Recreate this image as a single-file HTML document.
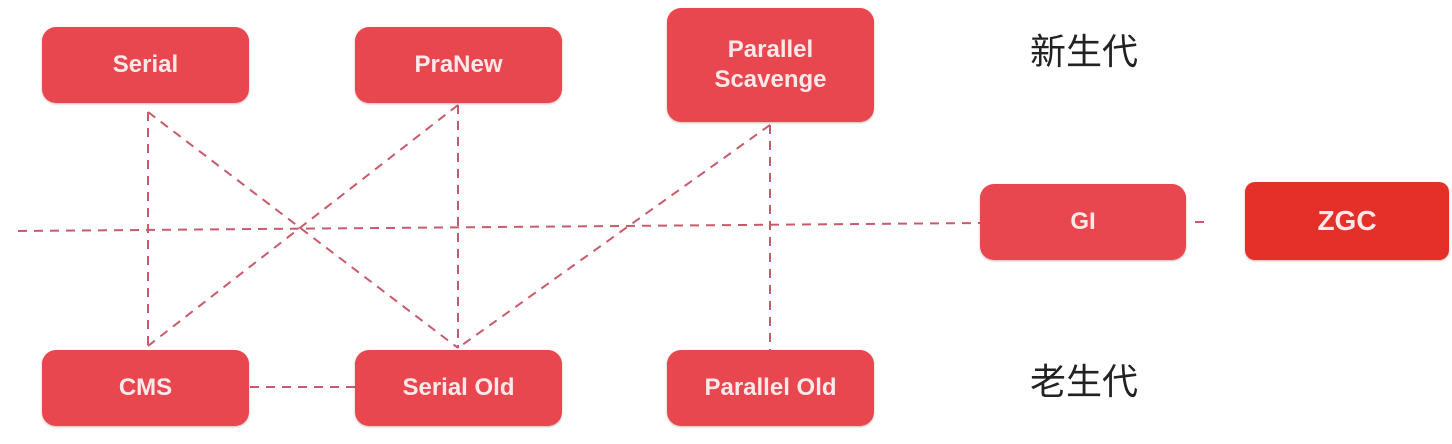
<!DOCTYPE html>
<html><head><style>
body{margin:0;width:1452px;height:444px;background:#fff;position:relative;overflow:hidden;font-family:"Liberation Sans",sans-serif}
.b{position:absolute;background:#e8474f;border-radius:14px;color:#fbe9ea;font-weight:bold;font-size:24px;display:flex;align-items:center;justify-content:center;text-align:center;line-height:30px;box-shadow:0 1px 2px rgba(120,0,0,.3)}
.t{position:absolute;font-family:"Liberation Sans","Noto Sans CJK SC",sans-serif;font-size:36px;color:#222;line-height:44px}
</style></head><body>
<svg width="1452" height="444" style="position:absolute;left:0;top:0">
<g stroke="#c95a6a" stroke-width="2" stroke-dasharray="9,7" fill="none">
<line x1="18" y1="231" x2="980" y2="223"/>
<line x1="1195" y1="222" x2="1206" y2="222"/>
<line x1="148" y1="112" x2="148" y2="348"/>
<line x1="148" y1="112" x2="458" y2="348"/>
<line x1="458" y1="105" x2="458" y2="348"/>
<line x1="458" y1="105" x2="148" y2="346"/>
<line x1="770" y1="125" x2="458" y2="348"/>
<line x1="770" y1="125" x2="770" y2="350"/>
<line x1="250" y1="387" x2="355" y2="387"/>
</g></svg>
<div class="b" style="left:42px;top:27px;width:207px;height:76px">Serial</div>
<div class="b" style="left:355px;top:27px;width:207px;height:76px">PraNew</div>
<div class="b" style="left:667px;top:8px;width:207px;height:114px">Parallel<br>Scavenge</div>
<div class="b" style="left:980px;top:184px;width:206px;height:76px">GI</div>
<div class="b" style="left:1245px;top:182px;width:204px;height:78px;background:#e5302a;font-size:28px;border-radius:10px">ZGC</div>
<div class="b" style="left:42px;top:350px;width:207px;height:76px">CMS</div>
<div class="b" style="left:355px;top:350px;width:207px;height:76px">Serial Old</div>
<div class="b" style="left:667px;top:350px;width:207px;height:76px">Parallel Old</div>
<div class="t" style="left:1030px;top:30px">新生代</div>
<div class="t" style="left:1030px;top:360px">老生代</div>
</body></html>
